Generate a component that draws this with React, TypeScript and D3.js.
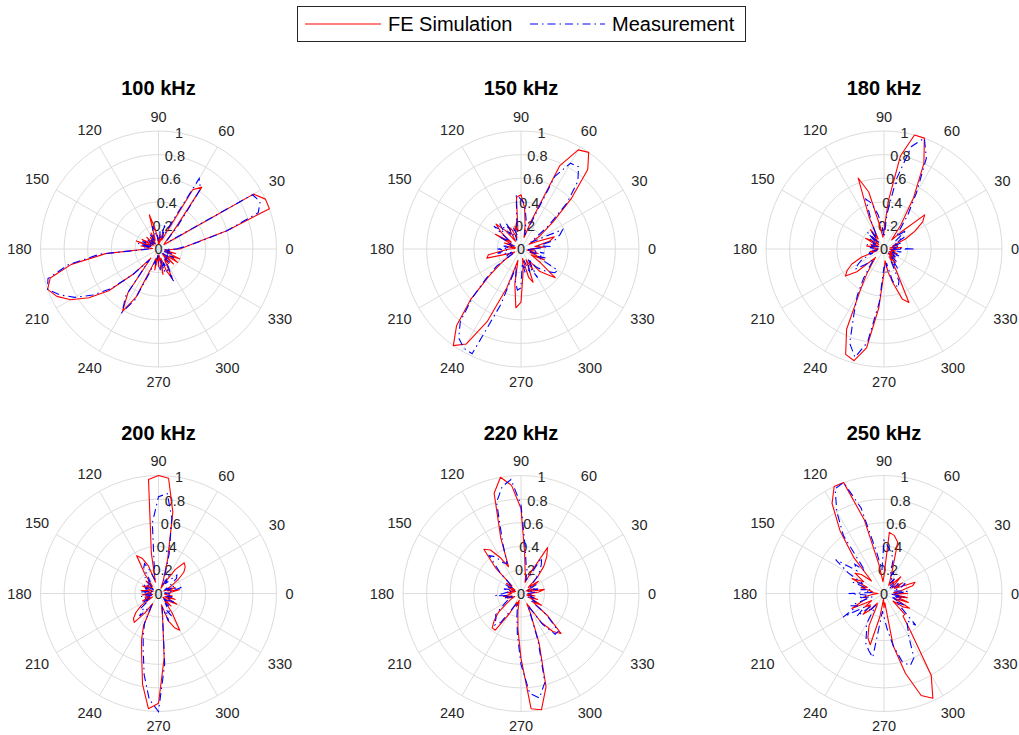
import React from 'react';
import * as d3 from 'd3';

// sampling of every pattern, degrees
const angles = d3.range(0, 360, 5);
const thetaTicks = d3.range(0, 360, 30);
const rTicks = [0, 0.2, 0.4, 0.6, 0.8, 1];
const titles = ['100 kHz', '150 kHz', '180 kHz', '200 kHz', '220 kHz', '250 kHz'];
const seriesNames = ['FE Simulation', 'Measurement'];

// normalised amplitude, one value per 5 degrees (0..355)
const sim100 = [0.18, 0.23, 0.33, 0.6, 1.0, 1.0, 0.93, 0.1, 0.06, 0.08, 0.2, 0.64, 0.58, 0.15, 0.08, 0.15, 0.05, 0.12,
  0.04, 0.1, 0.18, 0.3, 0.08, 0.15, 0.05, 0.12, 0.06, 0.14, 0.05, 0.1, 0.16, 0.06, 0.2, 0.08, 0.15, 0.05,
  0.1, 0.45, 0.75, 0.95, 1.0, 0.95, 0.86, 0.72, 0.55, 0.3, 0.1, 0.45, 0.61, 0.45, 0.15, 0.08, 0.18, 0.06,
  0.15, 0.05, 0.22, 0.08, 0.2, 0.28, 0.1, 0.15, 0.05, 0.18, 0.08, 0.2, 0.12, 0.2, 0.06, 0.15, 0.05, 0.08];
const meas100 = [0.15, 0.22, 0.35, 0.6, 0.9, 0.95, 0.92, 0.12, 0.1, 0.1, 0.25, 0.62, 0.69, 0.2, 0.1, 0.22, 0.08, 0.15,
  0.06, 0.12, 0.1, 0.2, 0.12, 0.08, 0.14, 0.05, 0.1, 0.06, 0.12, 0.05, 0.1, 0.15, 0.05, 0.18, 0.08, 0.12,
  0.08, 0.5, 0.78, 0.97, 1.0, 0.92, 0.82, 0.68, 0.52, 0.3, 0.12, 0.48, 0.62, 0.48, 0.2, 0.1, 0.15, 0.05,
  0.12, 0.18, 0.08, 0.2, 0.12, 0.3, 0.15, 0.08, 0.15, 0.05, 0.12, 0.08, 0.15, 0.05, 0.12, 0.06, 0.1, 0.05];

const sim150 = [0.08, 0.2, 0.12, 0.25, 0.3, 0.15, 0.08, 0.2, 0.35, 0.6, 0.88, 1.0, 0.97, 0.78, 0.25, 0.1, 0.2, 0.35,
  0.46, 0.44, 0.15, 0.2, 0.1, 0.18, 0.22, 0.08, 0.2, 0.3, 0.22, 0.1, 0.25, 0.08, 0.15, 0.05, 0.12, 0.05,
  0.1, 0.15, 0.28, 0.3, 0.12, 0.06, 0.1, 0.2, 0.35, 0.6, 0.85, 1.0, 0.93, 0.68, 0.35, 0.1, 0.3, 0.5,
  0.45, 0.2, 0.08, 0.25, 0.3, 0.1, 0.2, 0.12, 0.25, 0.3, 0.38, 0.2, 0.1, 0.22, 0.08, 0.15, 0.05, 0.12];
const meas150 = [0.1, 0.25, 0.15, 0.3, 0.35, 0.39, 0.15, 0.1, 0.3, 0.55, 0.75, 0.85, 0.84, 0.68, 0.2, 0.12, 0.25, 0.38,
  0.42, 0.46, 0.2, 0.12, 0.2, 0.08, 0.25, 0.15, 0.28, 0.2, 0.3, 0.12, 0.2, 0.06, 0.12, 0.08, 0.15, 0.1,
  0.2, 0.12, 0.2, 0.15, 0.08, 0.15, 0.08, 0.25, 0.38, 0.58, 0.8, 0.92, 0.97, 0.98, 0.5, 0.15, 0.28, 0.35,
  0.33, 0.12, 0.2, 0.1, 0.22, 0.15, 0.28, 0.1, 0.2, 0.25, 0.3, 0.35, 0.36, 0.15, 0.22, 0.08, 0.2, 0.06];

const sim180 = [0.08, 0.15, 0.05, 0.12, 0.08, 0.2, 0.3, 0.4, 0.45, 0.2, 0.1, 0.25, 0.5, 0.8, 1.0, 1.0, 0.8, 0.4,
  0.15, 0.1, 0.2, 0.5, 0.64, 0.3, 0.1, 0.2, 0.08, 0.15, 0.06, 0.12, 0.18, 0.05, 0.12, 0.08, 0.15, 0.05,
  0.08, 0.05, 0.12, 0.06, 0.2, 0.3, 0.36, 0.4, 0.3, 0.1, 0.15, 0.25, 0.4, 0.75, 0.95, 0.98, 0.85, 0.5,
  0.2, 0.1, 0.2, 0.3, 0.45, 0.5, 0.2, 0.08, 0.15, 0.05, 0.12, 0.06, 0.1, 0.05, 0.12, 0.06, 0.1, 0.05];
const meas180 = [0.25, 0.08, 0.12, 0.06, 0.15, 0.1, 0.2, 0.12, 0.25, 0.15, 0.2, 0.35, 0.55, 0.85, 1.0, 0.9, 0.6, 0.3,
  0.1, 0.2, 0.3, 0.4, 0.45, 0.25, 0.12, 0.18, 0.06, 0.2, 0.1, 0.15, 0.08, 0.12, 0.05, 0.15, 0.1, 0.12,
  0.05, 0.1, 0.06, 0.15, 0.1, 0.2, 0.25, 0.3, 0.2, 0.12, 0.18, 0.3, 0.45, 0.6, 0.85, 0.95, 0.8, 0.45,
  0.15, 0.2, 0.12, 0.28, 0.35, 0.3, 0.12, 0.2, 0.1, 0.15, 0.05, 0.12, 0.08, 0.15, 0.06, 0.1, 0.15, 0.05];

const sim200 = [0.06, 0.1, 0.18, 0.08, 0.15, 0.05, 0.12, 0.2, 0.28, 0.32, 0.34, 0.25, 0.1, 0.05, 0.12, 0.3, 0.7, 0.98,
  1.0, 0.97, 0.35, 0.1, 0.25, 0.33, 0.37, 0.2, 0.08, 0.15, 0.06, 0.12, 0.1, 0.15, 0.05, 0.1, 0.15, 0.06,
  0.1, 0.14, 0.05, 0.12, 0.08, 0.15, 0.06, 0.18, 0.25, 0.3, 0.32, 0.2, 0.1, 0.3, 0.42, 0.55, 0.78, 0.98,
  0.93, 0.55, 0.2, 0.1, 0.25, 0.32, 0.36, 0.2, 0.08, 0.15, 0.05, 0.12, 0.18, 0.06, 0.15, 0.08, 0.12, 0.05];
const meas200 = [0.1, 0.05, 0.12, 0.2, 0.08, 0.15, 0.06, 0.12, 0.2, 0.22, 0.15, 0.1, 0.18, 0.08, 0.15, 0.35, 0.65, 0.85,
  0.82, 0.6, 0.2, 0.12, 0.2, 0.28, 0.25, 0.12, 0.18, 0.08, 0.12, 0.05, 0.15, 0.1, 0.12, 0.05, 0.1, 0.15,
  0.06, 0.1, 0.15, 0.06, 0.12, 0.08, 0.15, 0.1, 0.2, 0.18, 0.25, 0.15, 0.12, 0.28, 0.38, 0.5, 0.7, 0.9,
  1.0, 0.6, 0.2, 0.12, 0.25, 0.15, 0.22, 0.1, 0.15, 0.06, 0.12, 0.08, 0.15, 0.1, 0.06, 0.12, 0.08, 0.1];

const sim220 = [0.08, 0.15, 0.2, 0.06, 0.12, 0.05, 0.1, 0.18, 0.08, 0.2, 0.3, 0.38, 0.45, 0.2, 0.1, 0.15, 0.2, 0.35,
  0.72, 0.92, 1.0, 0.88, 0.5, 0.25, 0.35, 0.45, 0.49, 0.3, 0.1, 0.15, 0.06, 0.12, 0.05, 0.1, 0.06, 0.12,
  0.08, 0.1, 0.15, 0.08, 0.12, 0.06, 0.1, 0.15, 0.25, 0.32, 0.38, 0.38, 0.2, 0.08, 0.12, 0.06, 0.15, 0.3,
  0.55, 0.98, 1.0, 0.82, 0.45, 0.2, 0.1, 0.3, 0.42, 0.48, 0.3, 0.12, 0.2, 0.08, 0.15, 0.05, 0.12, 0.06];
const meas220 = [0.06, 0.12, 0.08, 0.15, 0.1, 0.06, 0.15, 0.1, 0.12, 0.18, 0.25, 0.3, 0.35, 0.15, 0.12, 0.2, 0.25, 0.4,
  0.75, 0.97, 0.92, 0.8, 0.45, 0.28, 0.3, 0.38, 0.42, 0.25, 0.12, 0.08, 0.15, 0.06, 0.1, 0.15, 0.08, 0.12,
  0.15, 0.22, 0.1, 0.15, 0.06, 0.12, 0.15, 0.2, 0.28, 0.3, 0.35, 0.3, 0.15, 0.1, 0.08, 0.12, 0.2, 0.35,
  0.6, 0.85, 0.9, 0.78, 0.42, 0.18, 0.12, 0.32, 0.45, 0.45, 0.28, 0.1, 0.15, 0.06, 0.12, 0.08, 0.1, 0.05];

const sim250 = [0.2, 0.08, 0.15, 0.25, 0.28, 0.1, 0.18, 0.08, 0.12, 0.2, 0.1, 0.15, 0.08, 0.12, 0.2, 0.45, 0.5, 0.52,
  0.15, 0.1, 0.25, 0.65, 1.0, 1.0, 0.88, 0.65, 0.4, 0.15, 0.25, 0.3, 0.2, 0.3, 0.15, 0.2, 0.1, 0.12,
  0.05, 0.1, 0.18, 0.15, 0.2, 0.3, 0.12, 0.2, 0.15, 0.25, 0.18, 0.1, 0.12, 0.3, 0.4, 0.45, 0.2, 0.05,
  0.12, 0.08, 0.45, 0.7, 0.92, 0.98, 0.8, 0.4, 0.25, 0.25, 0.1, 0.2, 0.25, 0.1, 0.22, 0.12, 0.2, 0.08];
const meas250 = [0.1, 0.2, 0.12, 0.08, 0.15, 0.2, 0.1, 0.15, 0.06, 0.12, 0.08, 0.15, 0.1, 0.2, 0.15, 0.3, 0.35, 0.4,
  0.45, 0.2, 0.35, 0.75, 1.0, 0.98, 0.8, 0.6, 0.25, 0.35, 0.3, 0.5, 0.35, 0.2, 0.28, 0.12, 0.2, 0.1,
  0.3, 0.15, 0.22, 0.1, 0.3, 0.25, 0.4, 0.2, 0.3, 0.15, 0.2, 0.12, 0.3, 0.35, 0.45, 0.5, 0.55, 0.15,
  0.2, 0.3, 0.45, 0.6, 0.65, 0.6, 0.42, 0.35, 0.3, 0.38, 0.2, 0.12, 0.2, 0.08, 0.15, 0.1, 0.18, 0.06];

const simSeries = [sim100, sim150, sim180, sim200, sim220, sim250];
const measSeries = [meas100, meas150, meas180, meas200, meas220, meas250];

const WIDTH = 1019;
const HEIGHT = 735;
const R = 118;
const colX = [158.5, 521, 884];
const rowY = [249, 593.5];
const FONT = '"Liberation Sans", Arial, Helvetica, sans-serif';
const TEXT = '#262626';
const GRID = '#dcdcdc';
const DASHDOT = '8,4,1.5,4';

function PolarPlot({cx, cy, title, sim, meas}: {cx: number; cy: number; title: string; sim: number[]; meas: number[]}) {
  const r = d3.scaleLinear().domain([0, 1]).range([0, R]).clamp(true);
  const line = d3
    .lineRadial<number>()
    .angle((_, i) => ((90 - angles[i]) * Math.PI) / 180)
    .radius((d) => r(d))
    .curve(d3.curveLinearClosed);

  const rAxisAngle = (80 * Math.PI) / 180;

  return (
    <g transform={`translate(${cx},${cy})`}>
      <text x={0} y={-161} textAnchor='middle' dominantBaseline='central' fontWeight='bold' fontSize={20} fill='#000'>
        {title}
      </text>

      {/* grid */}
      {rTicks.slice(1).map((t) => (
        <circle key={t} r={r(t)} fill='none' stroke={GRID} strokeWidth={1} />
      ))}
      {thetaTicks.map((a) => {
        const rad = (a * Math.PI) / 180;
        return <line key={a} x1={0} y1={0} x2={R * Math.cos(rad)} y2={-R * Math.sin(rad)} stroke={GRID} strokeWidth={1} />;
      })}

      {/* theta labels */}
      {thetaTicks.map((a) => {
        const rad = (a * Math.PI) / 180;
        const c = Math.cos(rad);
        const s = Math.sin(rad);
        const w = String(a).length * 0.556 * 14.5;
        const d = R + 9 + (w / 2) * Math.abs(c) + 5.5 * Math.abs(s);
        return (
          <text key={a} x={d * c} y={-d * s} textAnchor='middle' dominantBaseline='central' fontSize={14.5} fill={TEXT}>
            {a}
          </text>
        );
      })}

      {/* r labels */}
      {rTicks.map((t) => (
        <text
          key={t}
          x={r(t) * Math.cos(rAxisAngle)}
          y={-r(t) * Math.sin(rAxisAngle)}
          textAnchor='middle'
          dominantBaseline='central'
          fontSize={14.5}
          fill={TEXT}
        >
          {t}
        </text>
      ))}

      <path d={line(sim) ?? ''} fill='none' stroke='#ff0000' strokeWidth={1.1} strokeLinejoin='round' />
      <path d={line(meas) ?? ''} fill='none' stroke='#0000ff' strokeWidth={1.1} strokeDasharray={DASHDOT} />
    </g>
  );
}

export default function App() {
  return (
    <svg
      width={WIDTH}
      height={HEIGHT}
      style={{position: 'absolute', left: 0, top: 0, background: '#fff'}}
      fontFamily={FONT}
    >
      <rect width={WIDTH} height={HEIGHT} fill='#fff' />

      {/* legend */}
      <g>
        <rect x={297.5} y={6.5} width={448} height={35} fill='#fff' stroke='#262626' strokeWidth={1} />
        <line x1={305} x2={381} y1={24} y2={24} stroke='#ff0000' strokeWidth={1.1} />
        <text x={388} y={24} dominantBaseline='central' fontSize={20} fill='#000'>
          {seriesNames[0]}
        </text>
        <line x1={530} x2={605} y1={24} y2={24} stroke='#0000ff' strokeWidth={1.1} strokeDasharray={DASHDOT} />
        <text x={612} y={24} dominantBaseline='central' fontSize={20} fill='#000'>
          {seriesNames[1]}
        </text>
      </g>

      {titles.map((t, i) => (
        <PolarPlot
          key={t}
          cx={colX[i % 3]}
          cy={rowY[Math.floor(i / 3)]}
          title={t}
          sim={simSeries[i]}
          meas={measSeries[i]}
        />
      ))}
    </svg>
  );
}
